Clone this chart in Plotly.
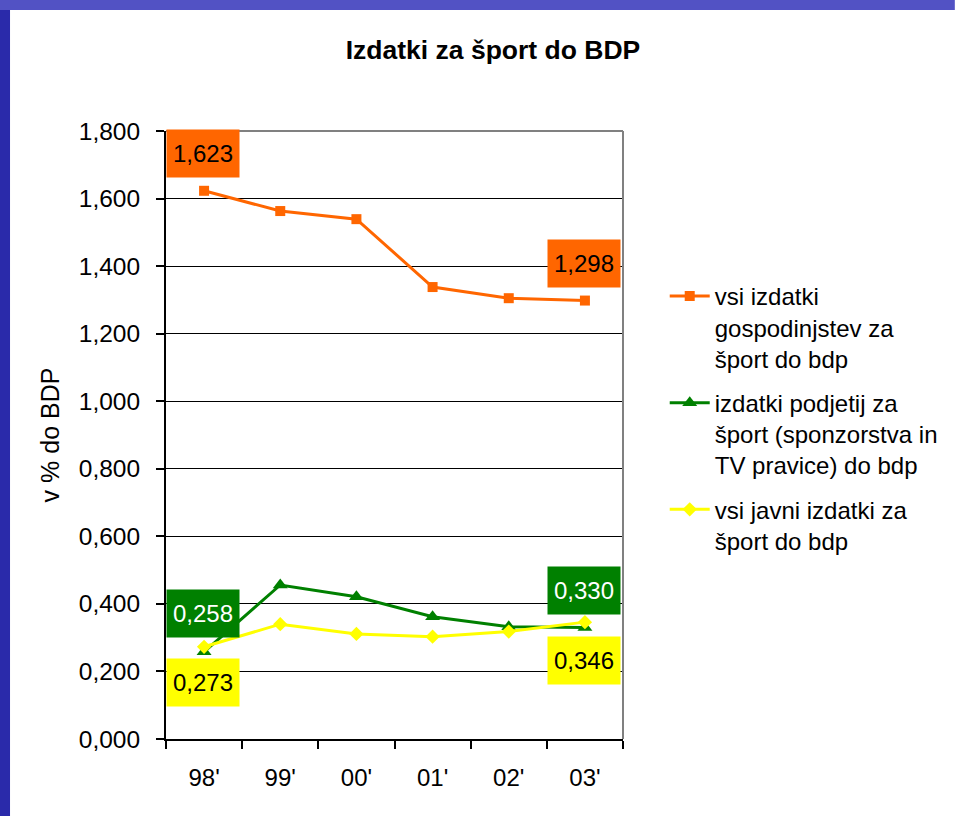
import plotly.graph_objects as go

# ---- data ----
years = ["98'", "99'", "00'", "01'", "02'", "03'"]
households = [1.623, 1.563, 1.539, 1.338, 1.305, 1.298]
companies = [0.258, 0.456, 0.421, 0.362, 0.332, 0.330]
public = [0.273, 0.340, 0.311, 0.303, 0.318, 0.346]

names = [
    "vsi izdatki<br>gospodinjstev za<br>šport do bdp",
    "izdatki podjetij za<br>šport (sponzorstva in<br>TV pravice) do bdp",
    "vsi javni izdatki za<br>šport do bdp",
]
title_text = "Izdatki za šport do BDP"
y_title = "v % do BDP"
y_ticks = [0.0, 0.2, 0.4, 0.6, 0.8, 1.0, 1.2, 1.4, 1.6, 1.8]

ORANGE = "#FF6600"
GREEN = "#008000"
YELLOW = "#FFFF00"
BLUE_LEFT = "#2a2aaa"
BLUE_TOP = "#5252c4"
FONT = "Liberation Sans, Arial, sans-serif"

W, H = 955, 816
# plot area in page pixels: x 166..626, y 131..739
L, R, T, B = 166, W - 626, 131, H - 739
pw, ph = W - L - R, H - T - B


def px_x(p):  # page pixel -> paper x
    return (p - L) / pw


def px_y(p):  # page pixel -> paper y
    return (H - B - p) / ph


fig = go.Figure()
series = [
    (households, ORANGE, "square", 10),
    (companies, GREEN, "triangle-up", 13),
    (public, YELLOW, "diamond", 11),
]
for i, (vals, col, sym, ms) in enumerate(series):
    fig.add_trace(go.Scatter(
        x=years, y=vals, name=names[i], mode="lines+markers",
        line=dict(color=col, width=3),
        marker=dict(color=col, symbol=sym, size=ms),
        legendgroup=f"g{i}",
    ))


def fmt(v):
    return f"{v:.3f}".replace(".", ",")


labels = [
    (years[0], households[0], ORANGE, "black", 37),
    (years[-1], households[-1], ORANGE, "black", 37),
    (years[0], companies[0], GREEN, "white", 38),
    (years[-1], companies[-1], GREEN, "white", 37),
    (years[0], public[0], YELLOW, "black", -36),
    (years[-1], public[-1], YELLOW, "black", -38),
]
annotations = []
for x, v, bg, fc, ys in labels:
    annotations.append(dict(
        x=x, y=v, xref="x", yref="y", text=fmt(v), showarrow=False,
        xanchor="center", yanchor="middle", yshift=ys, xshift=-1,
        bgcolor=bg, width=72, height=47, borderpad=0,
        font=dict(family=FONT, size=24, color=fc),
    ))

shapes = [
    # blue slide background strips (top and left)
    dict(type="rect", xref="paper", yref="paper", layer="below",
         x0=px_x(-5), x1=px_x(W + 5), y0=px_y(10), y1=px_y(-5),
         fillcolor=BLUE_TOP, line=dict(width=0)),
    dict(type="rect", xref="paper", yref="paper", layer="below",
         x0=px_x(-5), x1=px_x(9), y0=px_y(H + 5), y1=px_y(10),
         fillcolor=BLUE_LEFT, line=dict(width=0)),
    # gray plot border top & right
    dict(type="line", xref="paper", yref="paper", x0=0, x1=1, y0=1, y1=1,
         line=dict(color="#808080", width=2)),
    dict(type="line", xref="paper", yref="paper", x0=1, x1=1, y0=0, y1=1,
         line=dict(color="#808080", width=2)),
]

fig.update_layout(
    width=W, height=H,
    margin=dict(l=L, r=R, t=T, b=B),
    paper_bgcolor="white",
    plot_bgcolor="white",
    separators=",.",
    font=dict(family=FONT, size=24, color="black"),
    title=dict(text=f"<b>{title_text}</b>", x=493 / W, xref="container",
               y=1 - 50 / H, yref="container",
               xanchor="center", yanchor="middle",
               font=dict(family=FONT, size=26.5, color="black")),
    xaxis=dict(
        type="category", showgrid=False, showline=True, linecolor="black",
        linewidth=2, ticks="outside", tickson="boundaries", ticklen=8,
        tickwidth=2, tickcolor="black", ticklabelstandoff=16,
        tickfont=dict(family=FONT, size=24), range=[-0.5, 5.5],
    ),
    yaxis=dict(
        range=[0, 1.8], tickvals=y_ticks, tickformat=".3f",
        showgrid=True, gridcolor="black", gridwidth=1,
        showline=True, linecolor="black", linewidth=2, zeroline=False,
        ticks="outside", ticklen=8, tickwidth=2, tickcolor="black",
        ticklabelstandoff=11, tickfont=dict(family=FONT, size=24.5),
        title=dict(text=y_title, font=dict(family=FONT, size=25), standoff=12),
    ),
    legend=dict(
        x=px_x(668), y=px_y(274), xanchor="left", yanchor="top",
        bgcolor="rgba(0,0,0,0)", font=dict(family=FONT, size=24),
        valign="top", tracegroupgap=10, itemwidth=40,
    ),
    showlegend=True,
    annotations=annotations,
    shapes=shapes,
)

fig.write_html(
    "out.html",
    config={"displayModeBar": False},
    post_script=(
        "document.body.style.margin='0';"
        "document.body.style.background="
        "'linear-gradient(" + BLUE_TOP + " 0px, " + BLUE_TOP + " 10px, white 10px)';"
        "document.documentElement.style.background='white';"
        "document.documentElement.style.overflow='hidden';"
    ),
)
